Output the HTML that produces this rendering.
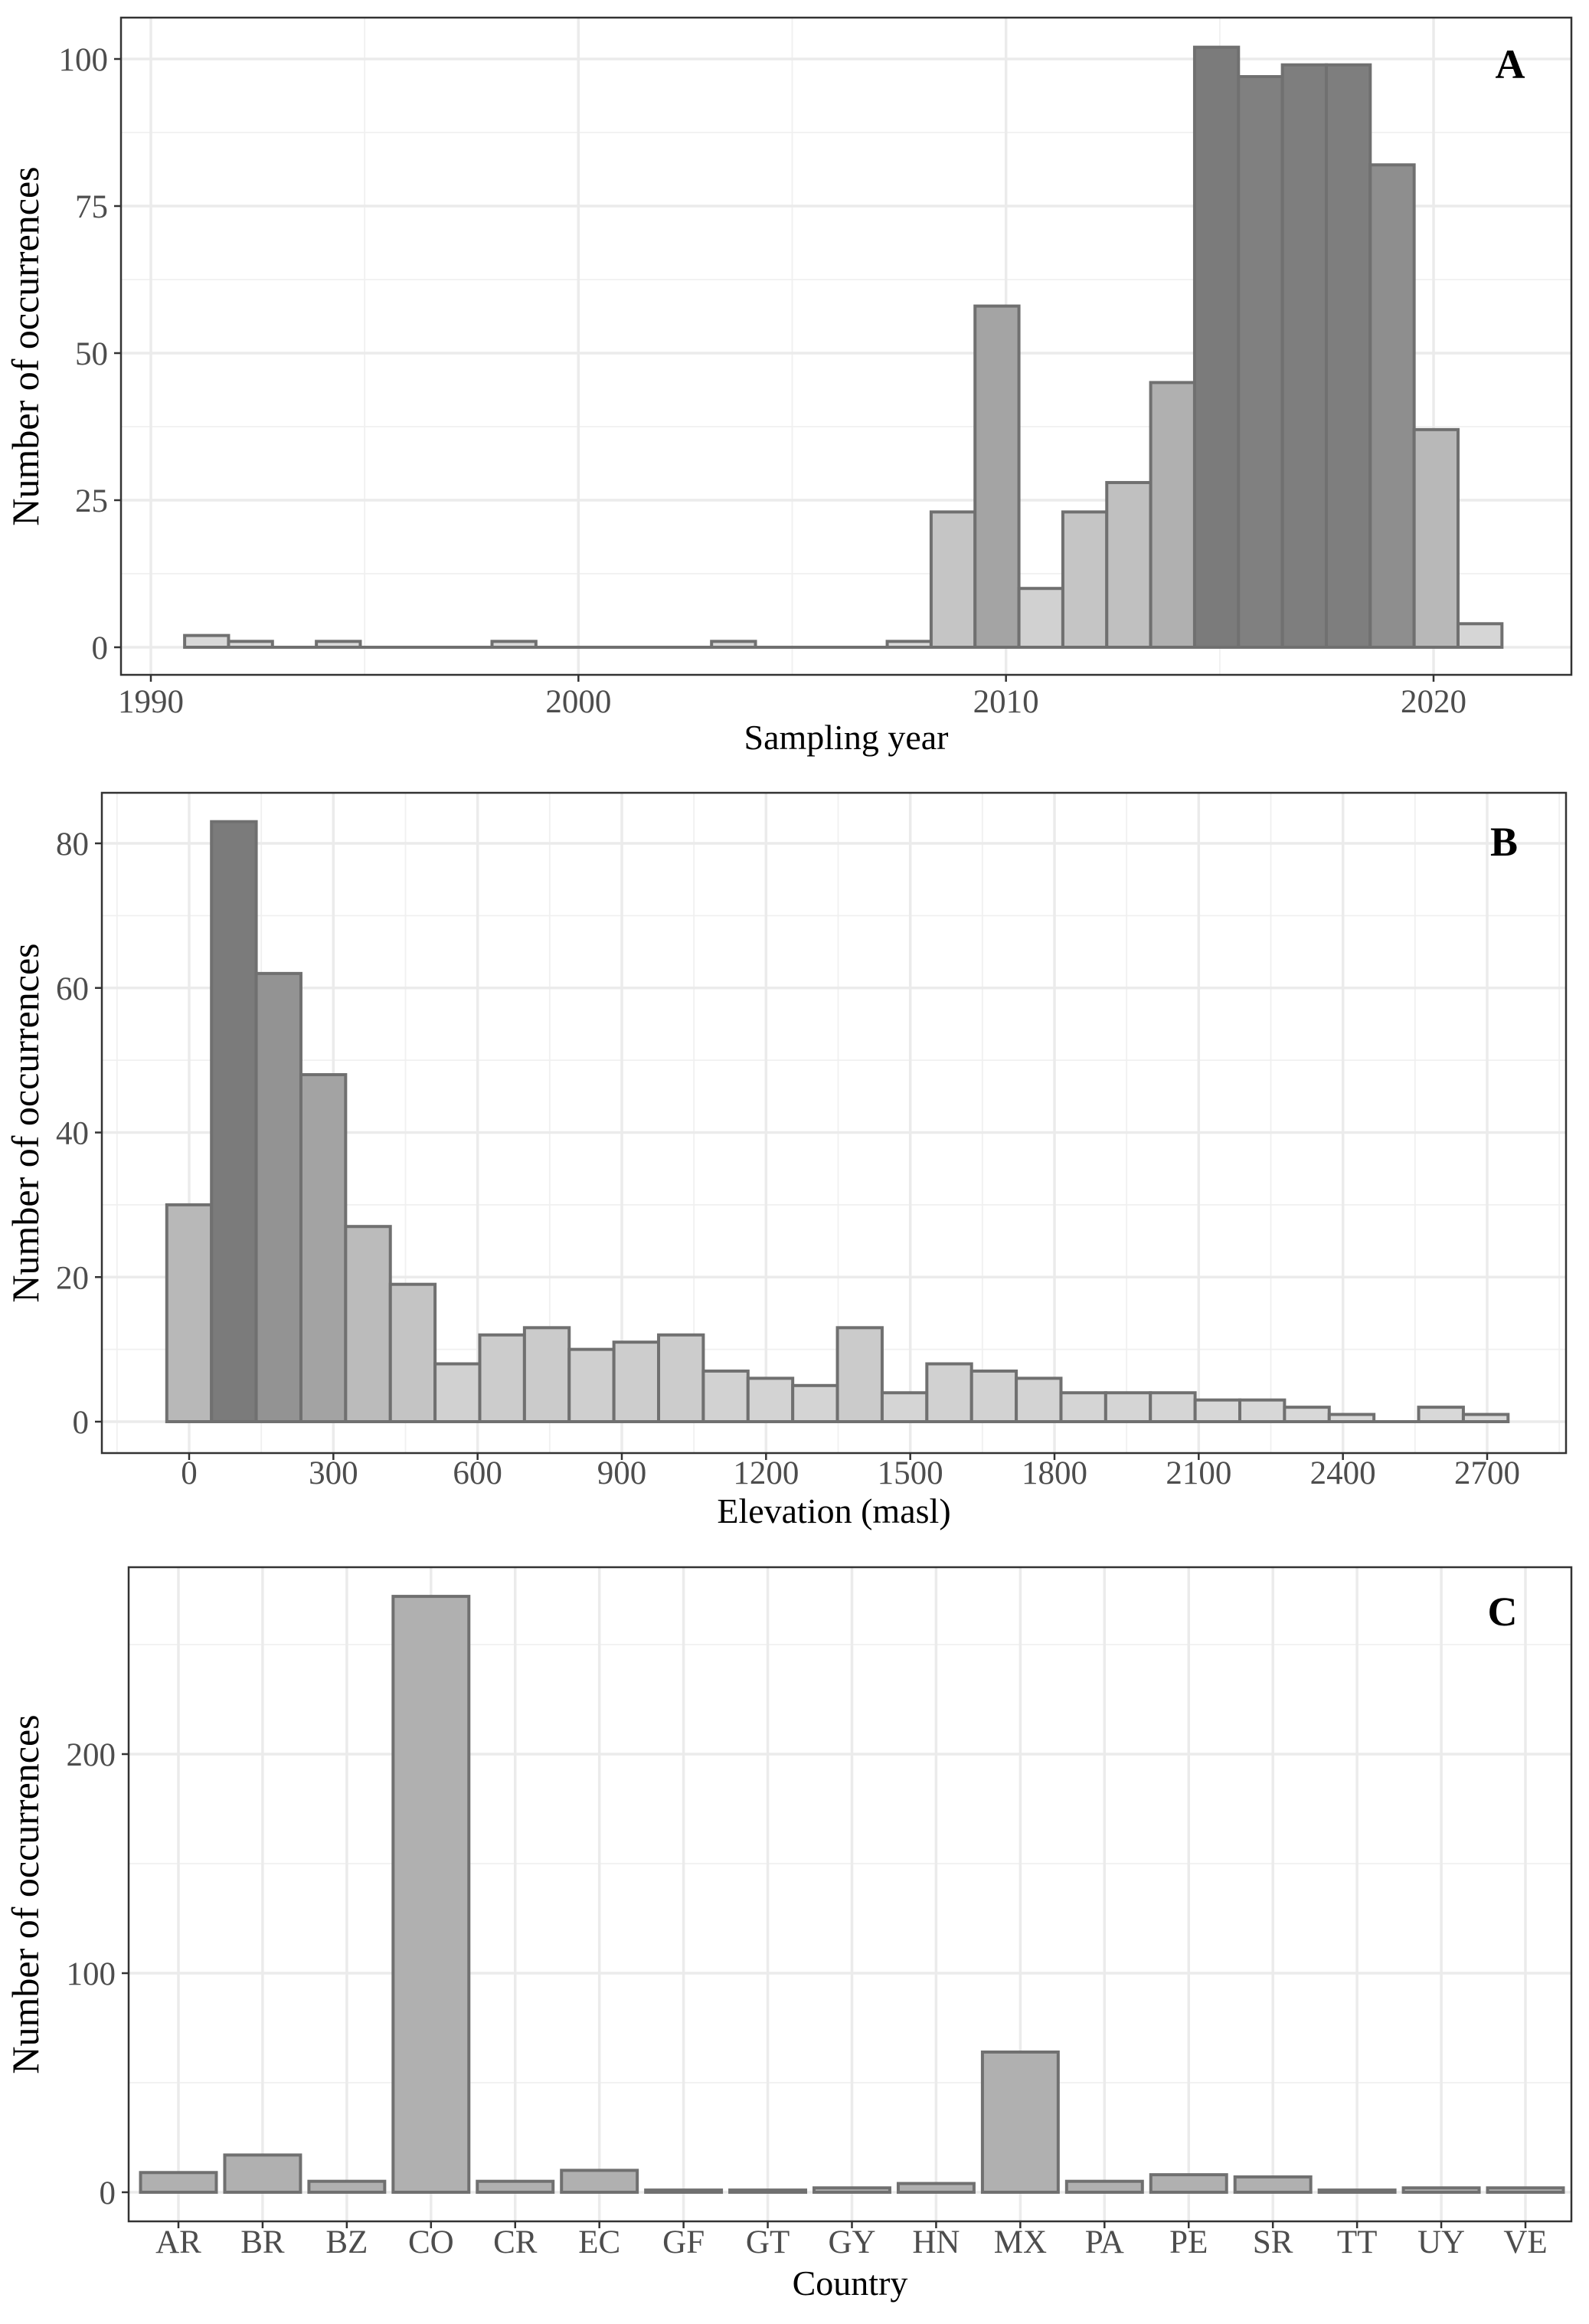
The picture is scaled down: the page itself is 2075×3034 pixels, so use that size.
<!DOCTYPE html>
<html><head><meta charset="utf-8"><style>
html,body{margin:0;padding:0;background:#fff;}
svg{display:block;font-family:"Liberation Serif",serif;}
</style></head><body>
<svg id="fig" width="2075" height="3034" viewBox="0 0 2075 3034"></svg>
<script>
// Panel A data
const yearBinStart = 1990.79;
const yearBinWidth = 1.027;
const yearCounts = [2,1,0,1,0,0,0,1,0,0,0,0,1,0,0,0,1,23,58,10,23,28,45,102,97,99,99,82,37,4];
const yearTicks = [1990,2000,2010,2020];
const yearYTicks = [0,25,50,75,100];
// Panel B data
const elevBinStart = -46.5;
const elevBinWidth = 93;
const elevCounts = [30,83,62,48,27,19,8,12,13,10,11,12,7,6,5,13,4,8,7,6,4,4,4,3,3,2,1,0,2,1];
const elevTicks = [0,300,600,900,1200,1500,1800,2100,2400,2700];
const elevYTicks = [0,20,40,60,80];
// Panel C data
const countries = ["AR","BR","BZ","CO","CR","EC","GF","GT","GY","HN","MX","PA","PE","SR","TT","UY","VE"];
const countryCounts = [9,17,5,272,5,10,1,1,2,4,64,5,8,7,1,2,2];
const countryYTicks = [0,100,200];

const NS = "http://www.w3.org/2000/svg";
const svg = document.getElementById("fig");
function el(tag, attrs, parent, text){
  const e = document.createElementNS(NS, tag);
  for (const k in attrs) e.setAttribute(k, attrs[k]);
  if (text !== undefined) e.textContent = text;
  (parent || svg).appendChild(e);
  return e;
}
function grey(v, vmax, lo, hi){ const g = Math.round(lo - (lo-hi)*v/vmax); return `rgb(${g},${g},${g})`; }

function panel(cfg){
  const g = el("g", {});
  
  
  const {L,R,T,B} = cfg;
  const xs = v => cfg.x0px + (v - cfg.x0)*cfg.xk;
  const ys = v => cfg.y0px - v*cfg.yk;
  const clip = el("g", {}, g);
  
  
  cfg.xMinor.forEach(v=>{ const x=xs(v); if(x>L&&x<R) el("line",{x1:x,x2:x,y1:T,y2:B,stroke:"#f0f0f0","stroke-width":1.8},clip); });
  cfg.yMinor.forEach(v=>{ const y=ys(v); if(y>T&&y<B) el("line",{x1:L,x2:R,y1:y,y2:y,stroke:"#f0f0f0","stroke-width":1.8},clip); });
  cfg.xMajor.forEach(v=>{ const x=xs(v); el("line",{x1:x,x2:x,y1:T,y2:B,stroke:"#ebebeb","stroke-width":3.5},clip); });
  cfg.yTicks.forEach(v=>{ const y=ys(v); el("line",{x1:L,x2:R,y1:y,y2:y,stroke:"#ebebeb","stroke-width":3.5},clip); });
  cfg.bars.forEach(b=>{
    const x1=xs(b.x1), x2=xs(b.x2), y=ys(b.v), y0=ys(0);
    const r = el("rect",{x:x1,y:Math.min(y,y0),width:x2-x1,height:Math.max(Math.abs(y0-y),0.01),fill:b.fill,stroke:"#707070","stroke-width":4},g);
    
    
  });
  el("rect",{x:L,y:T,width:R-L,height:B-T,fill:"none",stroke:"#333","stroke-width":2.5},g);
  cfg.yTicks.forEach(v=>{
    const y=ys(v);
    el("line",{x1:L-9,x2:L,y1:y,y2:y,stroke:"#333","stroke-width":2.5},g);
    const t = el("text",{x:L-17,y:y+15,"text-anchor":"end","font-size":43,fill:"#4d4d4d"},g,String(v));
    
    
  });
  cfg.xTicks.forEach((v,i)=>{
    const x=xs(v);
    el("line",{x1:x,x2:x,y1:B,y2:B+9,stroke:"#333","stroke-width":2.5},g);
    const t = el("text",{x:x,y:cfg.xLabY,"text-anchor":"middle","font-size":43,fill:"#4d4d4d"},g,cfg.xLabels?cfg.xLabels[i]:String(v));
    
    
  });
  const xt = el("text",{x:(L+R)/2,y:cfg.xTitleY,"text-anchor":"middle","font-size":46,fill:"#000"},g,cfg.xTitle);
  
  
  const yc=(T+B)/2;
  const yt = el("text",{x:0,y:0,transform:`translate(50,${yc}) rotate(-90)`,"text-anchor":"middle","font-size":50,fill:"#000"},g,"Number of occurrences");
  
  
  const pl = el("text",{x:cfg.letX,y:cfg.letY,"text-anchor":"middle","font-size":54,"font-weight":"bold",fill:"#000"},g,cfg.letter);
  
  
}

panel({
  name:"panel-a-sampling-year", L:158,R:2052,T:23,B:881,
  x0:1990,x0px:197,xk:(1872-197)/30, y0px:845, yk:(845-77)/100,
  xMajor:yearTicks, xMinor:[1995,2005,2015], yTicks:yearYTicks, yMinor:[12.5,37.5,62.5,87.5],
  xTicks:yearTicks, xLabY:930, xTitle:"Sampling year", xTitleY:978,
  letter:"A", letX:1972, letY:102,
  bars: yearCounts.map((v,i)=>({x1:yearBinStart+i*yearBinWidth,x2:yearBinStart+(i+1)*yearBinWidth,v:v,fill:grey(v,102,218,123),label:String(1991+i)}))
});
panel({
  name:"panel-b-elevation", L:133,R:2045,T:1035,B:1897,
  x0:0,x0px:247,xk:(1942-247)/2700, y0px:1856, yk:(1856-1101)/80,
  xMajor:elevTicks, xMinor:[-150,150,450,750,1050,1350,1650,1950,2250,2550,2850], yTicks:elevYTicks, yMinor:[10,30,50,70],
  xTicks:elevTicks, xLabY:1937, xTitle:"Elevation (masl)", xTitleY:1988,
  letter:"B", letX:1964, letY:1117,
  bars: elevCounts.map((v,i)=>({x1:elevBinStart+i*elevBinWidth,x2:elevBinStart+(i+1)*elevBinWidth,v:v,fill:grey(v,83,218,123),label:"elev-"+i}))
});
panel({
  name:"panel-c-country", L:168,R:2052,T:2046,B:2900,
  x0:0,x0px:233,xk:(1992-233)/16, y0px:2862, yk:(2862-2290)/200,
  xMajor:countries.map((c,i)=>i), xMinor:[], yTicks:countryYTicks, yMinor:[50,150,250],
  xTicks:countries.map((c,i)=>i), xLabels:countries, xLabY:2941, xTitle:"Country", xTitleY:2996,
  letter:"C", letX:1962, letY:2122,
  bars: countryCounts.map((v,i)=>({x1:i-0.45,x2:i+0.45,v:v,fill:"#b0b0b0",label:countries[i]}))
});
</script>
</body></html>
